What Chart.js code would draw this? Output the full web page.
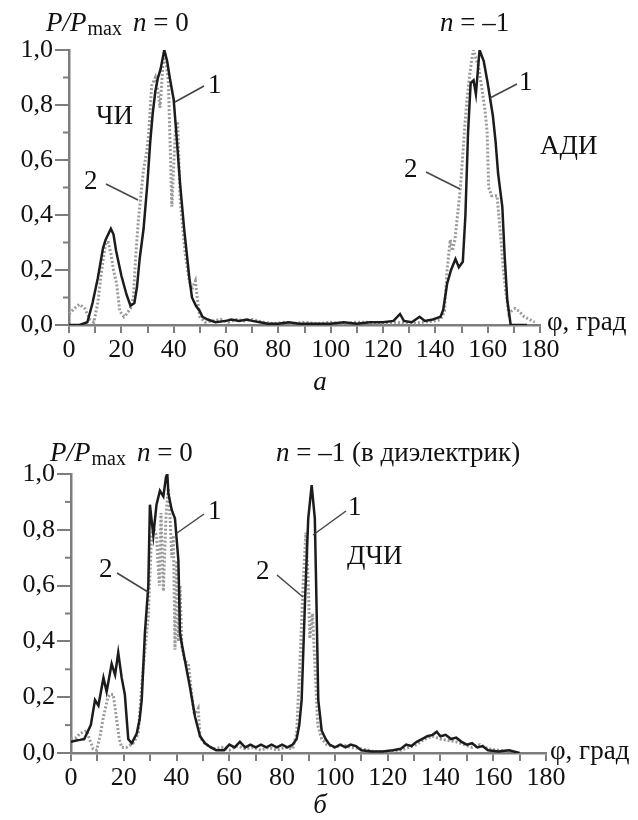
<!DOCTYPE html>
<html>
<head>
<meta charset="utf-8">
<script src="https://cdn.jsdelivr.net/npm/chart.js@4.4.1/dist/chart.umd.min.js"></script>
<style>
  html, body { margin: 0; padding: 0; background: #fff; }
  #wrap { position: relative; width: 638px; height: 820px; }
  canvas { position: absolute; left: 0; }
  #chartA { top: 0; }
  #chartB { top: 400px; }
</style>
</head>
<body>
<div id="wrap">
  <canvas id="chartA" width="638" height="400" style="width:638px;height:400px"></canvas>
  <canvas id="chartB" width="638" height="420" style="width:638px;height:420px"></canvas>
</div>
<script>
// panel a: curve 1 (solid) and curve 2 (dotted), angle in degrees vs P/Pmax
const phiA1 = [
  0, 4, 7, 9, 11, 13, 14, 15, 16, 17,
  18, 20, 22, 23.5, 25, 26, 27, 28.5, 30, 31,
  32, 33, 34, 35, 36.4, 37.5, 38.5, 40, 41, 42.4,
  44, 45, 46, 47, 48.5, 50, 51, 53, 56, 60,
  62, 65, 68, 70, 73, 76, 80, 84, 88, 95,
  100, 105, 110, 115, 120, 124, 126.5, 128, 131, 134,
  136, 139, 140.5, 142, 143, 144.5, 146, 147.7, 149, 150.5,
  151.5, 152.5, 153.5, 154.6, 155.5, 156.9, 158.5, 160, 161, 162,
  163, 164, 165.6, 166.5, 167.5, 168.8, 175];
const valA1 = [
  0, 0, 0.01, 0.08, 0.17, 0.28, 0.31, 0.33, 0.35, 0.33,
  0.27, 0.18, 0.11, 0.07, 0.08, 0.14, 0.24, 0.35, 0.52, 0.66,
  0.77, 0.85, 0.9, 0.93, 1.0, 0.96, 0.9, 0.82, 0.7, 0.52,
  0.35, 0.26, 0.17, 0.1, 0.07, 0.05, 0.03, 0.02, 0.01, 0.015,
  0.02, 0.015, 0.02, 0.015, 0.01, 0.005, 0.005, 0.01, 0.005, 0.005,
  0.005, 0.01, 0.005, 0.01, 0.01, 0.015, 0.04, 0.015, 0.01, 0.03,
  0.015, 0.02, 0.025, 0.03, 0.055, 0.15, 0.2, 0.24, 0.21, 0.23,
  0.4, 0.7, 0.88, 0.89, 0.84, 1.0, 0.96, 0.88, 0.82, 0.76,
  0.67, 0.55, 0.43, 0.25, 0.09, 0.0, 0.0];

const phiA2 = [
  0, 2, 4, 6, 8, 9.5, 11, 12.5, 14, 15,
  16, 17, 18.2, 19.4, 21, 22, 23.5, 24.6, 25.5, 26.5,
  28.4, 29.7, 30.5, 31.6, 33, 34, 34.8, 36, 36.7, 38,
  39.3, 40.6, 41.5, 42.5, 44.4, 46, 47, 48.3, 49, 50,
  52, 55, 58, 61, 64, 67, 70, 74, 78, 82,
  86, 90, 95, 100, 105, 110, 115, 120, 125, 130,
  135, 140, 142, 143.5, 144.5, 145.7, 146.5, 147.5, 148.5, 149.6,
  150.5, 151.3, 152.1, 153, 154, 154.6, 155.5, 156.5, 157.8, 159,
  159.8, 160.4, 161.5, 163.6, 164.9, 166, 166.8, 168.1, 169, 170.5,
  172, 174, 176, 178];
const valA2 = [
  0.04, 0.06, 0.075, 0.06, 0.02, 0.01, 0.08, 0.2, 0.3, 0.3,
  0.26, 0.2, 0.15, 0.05, 0.03, 0.04, 0.06, 0.1, 0.25, 0.38,
  0.56, 0.63, 0.7, 0.87, 0.9, 0.85, 0.79, 0.96, 0.99, 0.88,
  0.43, 0.7, 0.74, 0.45, 0.26, 0.16, 0.13, 0.16, 0.1, 0.03,
  0.01, 0.015, 0.02, 0.01, 0.02, 0.015, 0.02, 0.01, 0.005, 0.01,
  0.005, 0.01, 0.005, 0.01, 0.005, 0.01, 0.01, 0.005, 0.01, 0.005,
  0.01, 0.015, 0.02, 0.05, 0.2, 0.31, 0.27, 0.31, 0.4, 0.5,
  0.62, 0.73, 0.82, 0.9, 0.97, 1.0, 0.97, 0.94, 0.86, 0.78,
  0.7, 0.5, 0.47, 0.47, 0.33, 0.2, 0.13, 0.04, 0.05, 0.06,
  0.05, 0.03, 0.02, 0.01];

// panel б
const phiB1 = [
  0, 2, 3.4, 5, 6, 7.5, 9.1, 10.4, 12.3, 13.5,
  15.4, 16.7, 17.9, 19.2, 20.4, 21.7, 23, 24.9, 26, 26.8,
  28, 29.3, 29.9, 31.2, 32.4, 33.7, 35, 36, 36.5, 36.9,
  38.2, 39.4, 40.7, 41.3, 42.2, 43.2, 45, 47, 48.9, 50.8,
  53, 55, 58, 60, 62, 64, 66, 68, 70, 72,
  74, 76, 78, 80, 82, 84, 85.5, 86.5, 87.4, 88.7,
  89.9, 91.2, 92.4, 93, 93.7, 95, 96.5, 98, 100, 102,
  104, 106, 108, 110, 114, 118, 122, 125, 127, 129,
  131, 133, 135, 137, 138.6, 140, 142, 144, 146, 148,
  150, 152, 154, 156, 158, 162, 166, 170];
const valB1 = [
  0.04, 0.045, 0.047, 0.05, 0.07, 0.1, 0.19, 0.17, 0.27, 0.22,
  0.32, 0.28, 0.36, 0.27, 0.21, 0.05, 0.035, 0.07, 0.12, 0.19,
  0.43, 0.6, 0.89, 0.78, 0.89, 0.94, 0.92, 0.99, 1.0, 0.93,
  0.87, 0.84, 0.69, 0.43, 0.38, 0.33, 0.24, 0.13, 0.06, 0.035,
  0.02, 0.01, 0.01, 0.03, 0.02, 0.04, 0.02, 0.03, 0.02, 0.03,
  0.02, 0.03, 0.02, 0.03, 0.02, 0.03, 0.05, 0.1, 0.19, 0.55,
  0.84, 0.96, 0.84, 0.55, 0.19, 0.08, 0.05, 0.03, 0.02, 0.03,
  0.02, 0.03, 0.025, 0.01, 0.005, 0.005, 0.01, 0.015, 0.03, 0.025,
  0.04, 0.05, 0.06, 0.065, 0.076, 0.06, 0.065, 0.05, 0.055, 0.04,
  0.03, 0.035, 0.02, 0.025, 0.01, 0.005, 0.01, 0.0];

const phiB2 = [
  0, 2, 3.4, 5.9, 7, 8.4, 9.7, 11, 12.3, 14,
  14.8, 16, 17.3, 18.3, 19.2, 21, 23.6, 25.5, 26.5, 27.4,
  29.3, 30.5, 31.5, 32.4, 33.5, 34.1, 35, 36, 36.9, 37.5,
  38.2, 38.8, 39.4, 40.1, 40.7, 41.3, 42, 43.2, 44.5, 45.7,
  46.7, 47.6, 48.2, 48.9, 50, 51.4, 54, 57, 60, 63,
  66, 69, 72, 75, 78, 81, 84, 85.5, 86.7, 88,
  89, 89.9, 90.5, 91.5, 92.5, 93.5, 95, 97, 100, 103,
  106, 110, 115, 120, 125, 128, 131, 134, 137, 140,
  143, 146, 149, 152, 155, 158, 162, 166];
const valB2 = [
  0.05, 0.055, 0.07, 0.08, 0.05, 0.015, 0.01, 0.06, 0.13, 0.2,
  0.21, 0.21, 0.12, 0.05, 0.02, 0.02, 0.035, 0.07, 0.2, 0.31,
  0.49, 0.78, 0.8, 0.78, 0.6, 0.86, 0.58, 0.85, 0.95, 0.85,
  0.7, 0.78, 0.37, 0.69, 0.4, 0.6, 0.38, 0.33, 0.32, 0.21,
  0.14, 0.15, 0.16, 0.06, 0.04, 0.03, 0.015, 0.02, 0.01, 0.025,
  0.015, 0.02, 0.01, 0.02, 0.01, 0.02, 0.015, 0.07, 0.31, 0.61,
  0.79, 0.61, 0.41, 0.5, 0.3, 0.1, 0.05, 0.03, 0.02, 0.03,
  0.02, 0.015, 0.005, 0.005, 0.01, 0.02, 0.03, 0.05, 0.06, 0.05,
  0.045, 0.04, 0.03, 0.02, 0.03, 0.015, 0.01, 0.005];

const FONT = "'Liberation Serif', 'Times New Roman', serif";
const AXIS = "#7d7d7d";

function pts(xs, ys) {
  return xs.map((x, i) => ({ x: x, y: ys[i] }));
}

function txt(ctx, s, x, y, font, align) {
  ctx.font = font;
  ctx.textAlign = align || "left";
  ctx.textBaseline = "middle";
  ctx.fillText(s, x, y);
  return x + ctx.measureText(s).width;
}

function leader(ctx, x1, y1, x2, y2) {
  ctx.beginPath();
  ctx.moveTo(x1, y1);
  ctx.lineTo(x2, y2);
  ctx.stroke();
}

function makeChart(id, s1, s2, box, drawNotes) {
  const H = box.h;
  return new Chart(document.getElementById(id), {
    type: "line",
    data: {
      datasets: [
        { label: "1", data: s1, borderColor: "#1c1c1c", borderWidth: 2.5, pointRadius: 0, tension: 0, order: 0 },
        { label: "2", data: s2, borderColor: "#9a9a9a", borderWidth: 3, borderDash: [2, 2], pointRadius: 0, tension: 0, order: 1 }
      ]
    },
    options: {
      responsive: false,
      animation: false,
      layout: { padding: { left: 0, top: box.top, right: 638 - box.right, bottom: H - box.bottom - 40 } },
      plugins: { legend: { display: false }, tooltip: { enabled: false } },
      scales: {
        x: {
          type: "linear", min: 0, max: 180,
          afterFit: s => { s.height = 40; },
          border: { color: AXIS, width: 2.5 },
          grid: { drawOnChartArea: false, color: AXIS, lineWidth: 2, tickLength: 8 },
          ticks: {
            stepSize: 10, padding: 2, color: "#111", font: { family: FONT, size: 26 },
            maxRotation: 0, autoSkip: false,
            callback: v => (v % 20 === 0 ? String(v) : "")
          }
        },
        y: {
          min: 0, max: 1,
          afterFit: s => { s.width = box.left; },
          border: { color: AXIS, width: 2.5 },
          grid: { drawOnChartArea: false, color: AXIS, lineWidth: 2, tickLength: 14 },
          ticks: {
            stepSize: 0.2, padding: 2, color: "#111", font: { family: FONT, size: 26 },
            callback: v => v.toFixed(1).replace(".", ",")
          }
        }
      }
    },
    plugins: [{
      id: "notes",
      afterDraw(chart) {
        const ctx = chart.ctx;
        const ys = chart.scales.y;
        const left = chart.chartArea.left;
        ctx.save();
        ctx.strokeStyle = AXIS;
        ctx.lineWidth = 2;
        [0.1, 0.3, 0.5, 0.7, 0.9].forEach(v => {
          const y = ys.getPixelForValue(v);
          leader(ctx, left - 6, y, left, y);
        });
        ctx.fillStyle = "#111";
        ctx.strokeStyle = "#444";
        ctx.lineWidth = 1.5;
        drawNotes(ctx, chart);
        ctx.restore();
      }
    }]
  });
}

function title(ctx, x, y) {
  let p = txt(ctx, "P/P", x, y, "italic 27px " + FONT);
  p = txt(ctx, "max", p + 1, y + 6, "20px " + FONT);
  p = txt(ctx, "n", p + 11, y, "italic 27px " + FONT);
  txt(ctx, " = 0", p, y, "27px " + FONT);
}

function nMinus(ctx, x, y, tail) {
  const p = txt(ctx, "n", x, y, "italic 27px " + FONT);
  txt(ctx, " = \u20131" + tail, p, y, "27px " + FONT);
}

const F = "27px " + FONT;

makeChart("chartA", pts(phiA1, valA1), pts(phiA2, valA2),
  { h: 400, left: 69, right: 540, top: 50, bottom: 325 },
  (ctx, chart) => {
    title(ctx, 46, 24);
    nMinus(ctx, 440, 24, "");
    txt(ctx, "\u0427\u0418", 96, 117, F);
    txt(ctx, "\u0410\u0414\u0418", 540, 147, F);
    txt(ctx, "1", 208, 86, F);
    leader(ctx, 204, 86, 175, 102);
    txt(ctx, "2", 84, 182, F);
    leader(ctx, 106, 184, 138, 200);
    txt(ctx, "1", 519, 83, F);
    leader(ctx, 517, 84, 490, 98);
    txt(ctx, "2", 404, 170, F);
    leader(ctx, 426, 172, 460, 189);
    txt(ctx, "\u03c6, \u0433\u0440\u0430\u0434", 547, 323, F);
    txt(ctx, "a", 320, 383, "italic 27px " + FONT, "center");
  });

makeChart("chartB", pts(phiB1, valB1), pts(phiB2, valB2),
  { h: 420, left: 71, right: 546, top: 74, bottom: 353 },
  (ctx, chart) => {
    title(ctx, 50, 54);
    nMinus(ctx, 276, 54, " (\u0432 \u0434\u0438\u044d\u043b\u0435\u043a\u0442\u0440\u0438\u043a)");
    txt(ctx, "1", 208, 112, F);
    leader(ctx, 204, 114, 177, 133);
    txt(ctx, "2", 99, 170, F);
    leader(ctx, 117, 173, 148, 192);
    txt(ctx, "2", 256, 172, F);
    leader(ctx, 277, 175, 303, 197);
    txt(ctx, "1", 348, 108, F);
    leader(ctx, 346, 111, 313, 135);
    txt(ctx, "\u0414\u0427\u0418", 347, 157, F);
    txt(ctx, "\u03c6, \u0433\u0440\u0430\u0434", 550, 352, F);
    txt(ctx, "\u0431", 320, 406, "italic 27px " + FONT, "center");
  });
</script>
</body>
</html>
